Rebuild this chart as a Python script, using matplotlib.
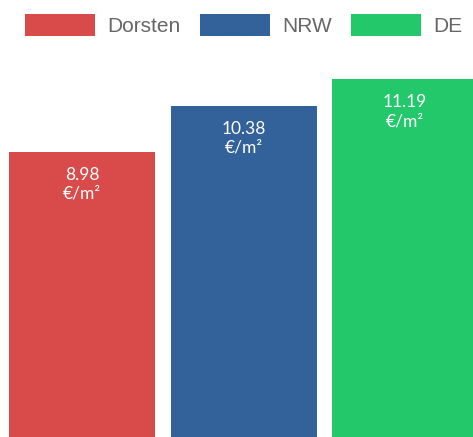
import matplotlib
matplotlib.use("Agg")
import matplotlib.pyplot as plt
from matplotlib.patches import Patch

# --------------------
# Data
# --------------------
regions = ["Dorsten", "NRW", "DE"]
prices = [8.98, 10.38, 11.19]
price_labels = ["8.98\n€/m²", "10.38\n€/m²", "11.19\n€/m²"]
colors = ["#d94a4a", "#336199", "#22c86a"]

# --------------------
# Figure
# --------------------
fig = plt.figure(figsize=(4.73, 4.37), dpi=100)
ax = fig.add_axes([0, 0, 1, 1])

x = range(len(regions))
bars = ax.bar(x, prices, width=0.904, color=colors, edgecolor="none")

# bars cropped at the bottom and on the right, like the reference
ax.set_xlim(-0.508, 2.421)
ax.set_ylim(0.304, 13.60)
ax.axis("off")

for bar, label in zip(bars, price_labels):
    ax.annotate(label, (bar.get_x() + bar.get_width() / 2, bar.get_height()),
                xytext=(0, -11), textcoords="offset points",
                ha="center", va="top", color="white", fontsize=12.5,
                family="Lato", linespacing=1.2)

handles = [Patch(facecolor=c, edgecolor="none") for c in colors]
leg = fig.legend(handles, regions, loc="upper left", bbox_to_anchor=(0.0529, 0.968),
                 ncol=3, frameon=False, borderpad=0, borderaxespad=0,
                 handlelength=3.37, handleheight=1.28,
                 handletextpad=0.58, columnspacing=0.91,
                 prop={"family": "Liberation Sans", "size": 15})
for t in leg.get_texts():
    t.set_color("#666666")

fig.savefig("out.png", dpi=100)
